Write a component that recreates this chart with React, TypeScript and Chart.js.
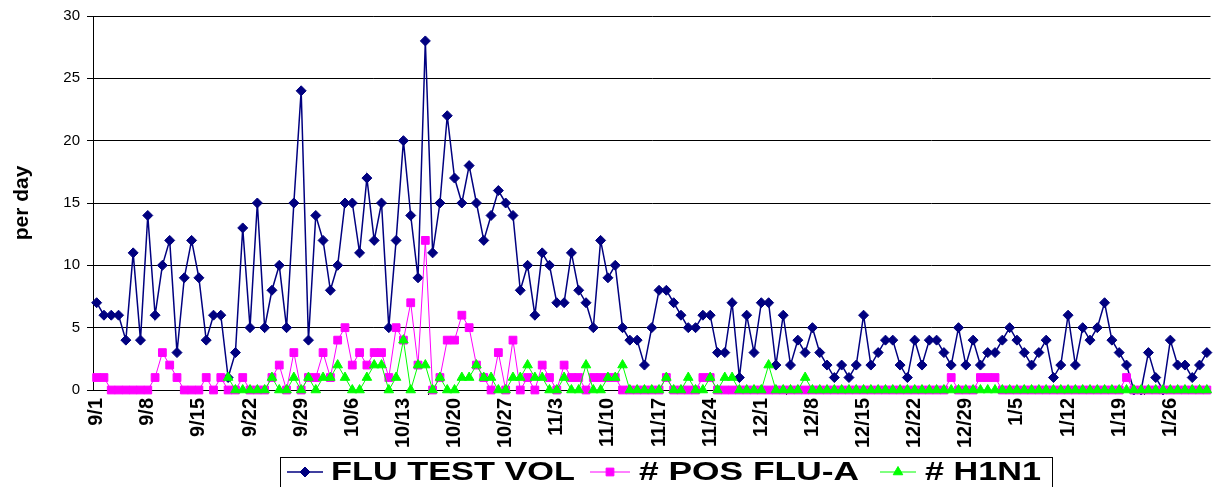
import React, { useEffect, useRef } from 'react';
import { Chart, registerables } from 'chart.js';
import { drawPoint } from 'chart.js/helpers';

Chart.register(...registerables);

// ---- data ----
const monthSpans: [number, number][] = [[9, 30], [10, 31], [11, 30], [12, 31], [1, 31]];
const categories: string[] = [];
for (const [m, n] of monthSpans) for (let d = 1; d <= n; d++) categories.push(`${m}/${d}`);

const tickLabels = ['9/1', '9/8', '9/15', '9/22', '9/29', '10/6', '10/13', '10/20', '10/27', '11/3', '11/10',
  '11/17', '11/24', '12/1', '12/8', '12/15', '12/22', '12/29', '1/5', '1/12', '1/19', '1/26'];

const yTicks = [0, 5, 10, 15, 20, 25, 30];

const fluTestVol = [
  7, 6, 6, 6, 4, 11, 4, 14, 6, 10,
  12, 3, 9, 12, 9, 4, 6, 6, 1, 3,
  13, 5, 15, 5, 8, 10, 5, 15, 24, 4,
  14, 12, 8, 10, 15, 15, 11, 17, 12, 15,
  5, 12, 20, 14, 9, 28, 11, 15, 22, 17,
  15, 18, 15, 12, 14, 16, 15, 14, 8, 10,
  6, 11, 10, 7, 7, 11, 8, 7, 5, 12,
  9, 10, 5, 4, 4, 2, 5, 8, 8, 7,
  6, 5, 5, 6, 6, 3, 3, 7, 1, 6,
  3, 7, 7, 2, 6, 2, 4, 3, 5, 3,
  2, 1, 2, 1, 2, 6, 2, 3, 4, 4,
  2, 1, 4, 2, 4, 4, 3, 2, 5, 2,
  4, 2, 3, 3, 4, 5, 4, 3, 2, 3,
  4, 1, 2, 6, 2, 5, 4, 5, 7, 4,
  3, 2, 0, 0, 3, 1, 0, 4, 2, 2,
  1, 2, 3,
];

const posFluA = [
  1, 1, 0, 0, 0, 0, 0, 0, 1, 3,
  2, 1, 0, 0, 0, 1, 0, 1, 0, 0,
  1, 0, 0, 0, 1, 2, 0, 3, 0, 1,
  1, 3, 1, 4, 5, 2, 3, 2, 3, 3,
  1, 5, 4, 7, 2, 12, 0, 1, 4, 4,
  6, 5, 2, 1, 0, 3, 0, 4, 0, 1,
  0, 2, 1, 0, 2, 1, 1, 0, 1, 1,
  1, 1, 0, 0, 0, 0, 0, 0, 1, 0,
  0, 0, 0, 1, 1, 0, 0, 0, 0, 0,
  0, 0, 0, 0, 0, 0, 0, 0, 0, 0,
  0, 0, 0, 0, 0, 0, 0, 0, 0, 0,
  0, 0, 0, 0, 0, 0, 0, 1, 0, 0,
  0, 1, 1, 1, 0, 0, 0, 0, 0, 0,
  0, 0, 0, 0, 0, 0, 0, 0, 0, 0,
  0, 1, 0, 0, 0, 0, 0, 0, 0, 0,
  0, 0, 0,
];

const h1n1 = [
  null, null, null, null, null, null, null, null, null, null,
  null, null, null, null, null, null, null, null, 1, 0,
  0, 0, 0, 0, 1, 0, 0, 1, 0, 1,
  0, 1, 1, 2, 1, 0, 0, 1, 2, 2,
  0, 1, 4, 0, 2, 2, 0, 1, 0, 0,
  1, 1, 2, 1, 1, 0, 0, 1, 1, 2,
  1, 1, 0, 0, 1, 0, 0, 2, 0, 0,
  1, 1, 2, 0, 0, 0, 0, 0, 1, 0,
  0, 1, 0, 0, 1, 0, 1, 1, 0, 0,
  0, 0, 2, 0, 0, 0, 0, 1, 0, 0,
  0, 0, 0, 0, 0, 0, 0, 0, 0, 0,
  0, 0, 0, 0, 0, 0, 0, 0, 0, 0,
  0, 0, 0, 0, 0, 0, 0, 0, 0, 0,
  0, 0, 0, 0, 0, 0, 0, 0, 0, 0,
  0, 0, 0, 0, 0, 0, 0, 0, 0, 0,
  0, 0, 0,
];

const seriesNames = ['FLU TEST VOL', '# POS FLU-A', '# H1N1'];
const seriesColors = ['#000080', '#FF00FF', '#00FF00'];
const seriesStyles = ['rectRot', 'rect', 'triangle'];
const seriesRadius = [5, 5.5, 5.5];

// ---- layout constants ----
const CANVAS_W = 1217;
const CANVAS_H = 487;
const FONT = '"Liberation Sans", Arial, sans-serif';

const legendItems = [
  { x0: 287, x1: 323, tx: 331, tw: 244 },
  { x0: 590, x1: 630, tx: 639, tw: 220 },
  { x0: 880, x1: 916, tx: 925, tw: 116 },
];

const legendPlugin = {
  id: 'excelLegend',
  afterDraw(chart: any) {
    const ctx = chart.ctx as CanvasRenderingContext2D;
    ctx.save();
    ctx.strokeStyle = '#000';
    ctx.lineWidth = 1;
    ctx.strokeRect(280.5, 457.5, 772, 40);
    const cy = 472;
    legendItems.forEach((it, i) => {
      ctx.strokeStyle = seriesColors[i];
      ctx.lineWidth = i === 0 ? 1.5 : 1;
      ctx.beginPath();
      ctx.moveTo(it.x0, cy);
      ctx.lineTo(it.x1, cy);
      ctx.stroke();
      ctx.fillStyle = seriesColors[i];
      ctx.strokeStyle = seriesColors[i];
      ctx.lineWidth = 1;
      drawPoint(ctx, { pointStyle: seriesStyles[i] as any, radius: seriesRadius[i], borderWidth: 1, rotation: 0 } as any, (it.x0 + it.x1) / 2, cy);
      ctx.font = `bold 26px ${FONT}`;
      ctx.fillStyle = '#000';
      ctx.textBaseline = 'middle';
      ctx.textAlign = 'left';
      const w = ctx.measureText(seriesNames[i]).width;
      ctx.save();
      ctx.translate(it.tx, cy + 1);
      ctx.scale(it.tw / w, 1);
      ctx.fillText(seriesNames[i], 0, 0);
      ctx.restore();
    });
    ctx.restore();
  },
};

export default function App() {
  const ref = useRef<HTMLCanvasElement>(null);
  useEffect(() => {
    const datasets = [fluTestVol, posFluA, h1n1].map((d, i) => ({
      label: seriesNames[i],
      data: d,
      borderColor: seriesColors[i],
      backgroundColor: seriesColors[i],
      borderWidth: i === 0 ? 1.5 : 1,
      pointStyle: seriesStyles[i],
      pointRadius: seriesRadius[i],
      pointBackgroundColor: seriesColors[i],
      pointBorderColor: seriesColors[i],
      pointBorderWidth: 1,
      tension: 0,
      clip: false as any,
      order: 3 - i,
      spanGaps: false,
    }));
    const chart = new Chart(ref.current!, {
      type: 'line',
      data: { labels: categories, datasets: datasets as any },
      options: {
        responsive: false,
        animation: false,
        devicePixelRatio: 1,
        layout: { padding: { top: 15, left: 0, right: 0, bottom: 0 } },
        plugins: { legend: { display: false }, tooltip: { enabled: false } },
        scales: {
          x: {
            type: 'category',
            offset: true,
            grid: {
              display: true,
              offset: true,
              drawOnChartArea: false,
              drawTicks: true,
              tickLength: 5,
              color: '#000',
              tickColor: (c: any) => (c.index % 7 === 0 ? '#000' : 'rgba(0,0,0,0)'),
            },
            border: { display: true, color: '#000', width: 1 },
            ticks: {
              autoSkip: false,
              maxRotation: 90,
              minRotation: 90,
              padding: 3,
              color: '#000',
              font: { family: FONT, size: 20, weight: 'bold' },
              callback: (_v: any, index: number) => (index % 7 === 0 ? tickLabels[index / 7] : null),
            },
            afterFit: (s: any) => { s.height = 97; },
          },
          y: {
            min: 0,
            max: 30,
            afterBuildTicks: (s: any) => { s.ticks = yTicks.map((v) => ({ value: v })); },
            grid: { color: '#000', lineWidth: 1, tickLength: 6, drawTicks: true },
            border: { display: true, color: '#000', width: 1 },
            ticks: {
              padding: 7,
              color: '#000',
              font: { family: FONT, size: 15 },
            },
            title: {
              display: true,
              text: 'per day',
              color: '#000',
              font: { family: FONT, size: 21, weight: 'bold' },
              padding: { top: 10, bottom: 0 },
            },
            afterFit: (s: any) => { s.width = 93; },
          },
        },
      },
      plugins: [legendPlugin],
    });
    return () => chart.destroy();
  }, []);
  return (
    <div style={{ position: 'absolute', left: 0, top: 0, width: 1213, height: 487, overflow: 'hidden', background: '#fff' }}>
      <canvas ref={ref} width={CANVAS_W} height={CANVAS_H} style={{ display: 'block' }} />
    </div>
  );
}
